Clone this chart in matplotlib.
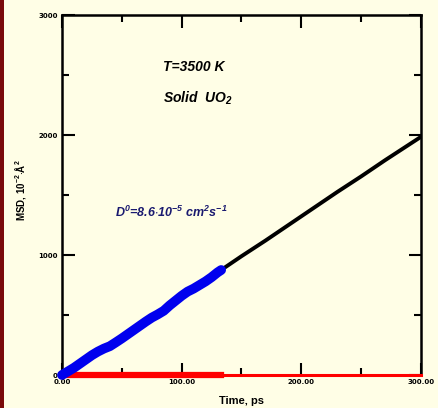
import matplotlib
matplotlib.use('Agg')
import matplotlib.pyplot as plt
from matplotlib.patches import Rectangle
from matplotlib.ticker import MultipleLocator

plt.rcParams['mathtext.default'] = 'regular'

# blue: MD points used for the fit (t, ps / MSD)
t_fit = [0, 5, 10, 15, 20, 25, 30, 35, 40, 45, 50, 55, 60, 65, 70,
         75, 80, 85, 90, 95, 100, 105, 110, 115, 120, 125, 130, 133]
msd_fit = [0, 30, 60, 95, 130, 165, 195, 220, 240, 272, 305, 340, 375, 410, 445,
           478, 505, 535, 580, 620, 660, 695, 720, 750, 780, 815, 855, 875]

# black: continuation of the run
t_long = [133, 150, 170, 190, 210, 230, 250, 270, 290, 300]
msd_long = [875, 990, 1120, 1255, 1390, 1525, 1655, 1790, 1920, 1985]

# red: baseline
t_red_thick = [0, 133]
t_red_thin = [133, 300]
red_val = [0, 0]

xticks = [0, 100, 200, 300]
xticklabels = ['0.00', '100.00', '200.00', '300.00']
yticks = [0, 1000, 2000, 3000]
yticklabels = ['0', '1000', '2000', '3000']

bg = '#fffee6'
fig = plt.figure(figsize=(4.38, 4.08), dpi=100, facecolor=bg)
fig.patches.append(Rectangle((0, 0), 4 / 438, 1, transform=fig.transFigure,
                             facecolor='#7a0a0a', edgecolor='none'))
ax = fig.add_axes([62 / 438, 1 - 375 / 408, (421 - 62) / 438, (375 - 15) / 408])
ax.set_facecolor(bg)

ax.plot(t_red_thin, red_val, color='#ff0000', lw=2.2, clip_on=False, zorder=3)
ax.plot(t_red_thick, red_val, color='#ff0000', lw=4.5, clip_on=False, zorder=3)
ax.plot(t_long, msd_long, color='black', lw=2.8, zorder=4)
ax.plot(t_fit, msd_fit, color='#0000ee', lw=7, solid_capstyle='round',
        zorder=5, clip_on=False)

ax.set_xlim(0, 300)
ax.set_ylim(0, 3000)
ax.set_xticks(xticks)
ax.set_xticklabels(xticklabels)
ax.set_yticks(yticks)
ax.set_yticklabels(yticklabels)
ax.xaxis.set_minor_locator(MultipleLocator(50))
ax.yaxis.set_minor_locator(MultipleLocator(500))
ax.tick_params(which='both', direction='in', top=True, right=True, width=1.5,
               labelsize=5, pad=3)
ax.tick_params(which='major', length=9)
ax.tick_params(which='minor', length=5)
for lab in ax.get_xticklabels() + ax.get_yticklabels():
    lab.set_fontweight('bold')
for sp in ax.spines.values():
    sp.set_linewidth(1.8)

ax.text(163 / 438, 1 - 67 / 408, 'T=3500 K', transform=fig.transFigure,
        family='Liberation Sans', fontsize=10, fontweight='bold', style='italic',
        va='center', ha='left')
ax.text(163 / 438, 1 - 98 / 408, 'Solid  UO$_2$', transform=fig.transFigure,
        family='Liberation Sans', fontsize=10, fontweight='bold', style='italic',
        va='center', ha='left')
ax.text(115 / 438, 1 - 212 / 408,
        'D$^0$=8.6$\\cdot$10$^{-5}$ cm$^2$s$^{-1}$',
        transform=fig.transFigure, family='Liberation Sans', fontsize=9,
        fontweight='bold', style='italic', color='#1a1a70', va='center', ha='left')

fig.text(241 / 438, 1 - 401 / 408, 'Time, ps', family='Liberation Sans', fontsize=8,
         fontweight='bold', ha='center', va='center')
fig.text(20 / 438, 1 - 190 / 408, 'MSD, 10$^{-2}$$\\cdot$Å$^2$', family='Liberation Sans',
         fontsize=7, fontweight='bold', rotation=90, ha='center', va='center')

plt.savefig('out.png', dpi=100, facecolor=bg)
